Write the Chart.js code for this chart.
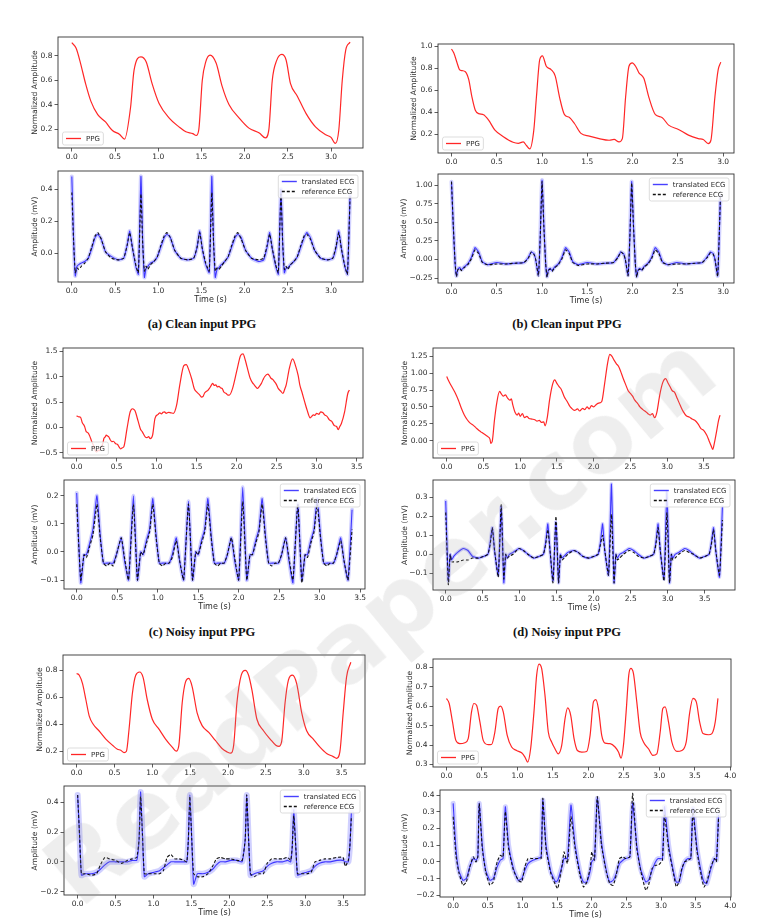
<!DOCTYPE html>
<html>
<head>
<meta charset="utf-8">
<script src="https://cdn.jsdelivr.net/npm/chart.js@4.4.1/dist/chart.umd.min.js"></script>
<style>
body{margin:0;background:#fff;width:774px;height:924px;position:relative;overflow:hidden;font-family:'DejaVu Sans',sans-serif}
canvas{position:absolute}
.cap{position:absolute;font:bold 12.5px 'Liberation Serif',serif;line-height:14px;color:#111;transform:translateX(-50%);white-space:nowrap}
.wm{position:absolute;left:380px;top:620px;font:bold 96px 'DejaVu Sans',sans-serif;line-height:1;color:rgba(150,150,150,0.16);
  transform:translate(-50%,-50%) rotate(-39.5deg);white-space:nowrap;pointer-events:none;z-index:5}
</style>
</head>
<body>
<div class="cap" style="left:202px;top:317px">(a) Clean input PPG</div>
<div class="cap" style="left:567px;top:317px">(b) Clean input PPG</div>
<div class="cap" style="left:202px;top:625px">(c) Noisy input PPG</div>
<div class="cap" style="left:567px;top:625px">(d) Noisy input PPG</div>
<div class="wm">ReadPaper.com</div>
<script>
// tick labels
var xTicks3 = [0, 0.5, 1.0, 1.5, 2.0, 2.5, 3.0];
var xTicks35 = [0, 0.5, 1.0, 1.5, 2.0, 2.5, 3.0, 3.5];
var xTicks4 = [0, 0.5, 1.0, 1.5, 2.0, 2.5, 3.0, 3.5, 4.0];
var yTicksPpgA = [0.2, 0.4, 0.6, 0.8];
var yTicksEcgA = [0.0, 0.2, 0.4];
var yTicksPpgB = [0.2, 0.4, 0.6, 0.8, 1.0];
var yTicksEcgB = [-0.25, 0.0, 0.25, 0.5, 0.75, 1.0];
var yTicksPpgC = [-0.5, 0.0, 0.5, 1.0, 1.5];
var yTicksEcgC = [-0.1, 0.0, 0.1, 0.2];
var yTicksPpgD = [0.0, 0.25, 0.5, 0.75, 1.0, 1.25];
var yTicksEcgD = [-0.1, 0.0, 0.1, 0.2, 0.3];
var yTicksPpgE = [0.2, 0.4, 0.6, 0.8];
var yTicksEcgE = [-0.2, 0.0, 0.2, 0.4];
var yTicksPpgF = [0.3, 0.4, 0.5, 0.6, 0.7, 0.8];
var yTicksEcgF = [-0.2, -0.1, 0.0, 0.1, 0.2, 0.3, 0.4];

// (a) clean PPG: [time s, amplitude]
var ppgA = [[0,0.906],[0.05,0.86],[0.10,0.74],[0.16,0.57],[0.22,0.43],[0.30,0.32],[0.39,0.26],[0.47,0.19],[0.55,0.16],[0.61,0.12],
  [0.68,0.38],[0.72,0.68],[0.80,0.79],[0.86,0.75],[0.93,0.57],[1.01,0.41],[1.13,0.29],[1.24,0.22],[1.32,0.18],[1.40,0.165],
  [1.44,0.15],[1.47,0.20],[1.51,0.60],[1.55,0.75],[1.60,0.805],[1.67,0.74],[1.74,0.55],[1.82,0.40],[1.94,0.29],[2.05,0.21],
  [2.17,0.17],[2.24,0.13],[2.28,0.195],[2.32,0.60],[2.37,0.76],[2.43,0.81],[2.48,0.765],[2.53,0.575],[2.61,0.47],[2.71,0.33],
  [2.82,0.22],[2.94,0.155],[3.00,0.135],[3.05,0.085],[3.09,0.195],[3.13,0.60],[3.17,0.846],[3.22,0.91]];

// (a) ECG
var ecgATime = [
  0.00,0.02,0.04,0.06,0.08,0.11,0.15,0.19,0.23,0.27,0.30,0.34,0.39,0.46,0.54,0.60,0.64,0.67,0.70,0.74,0.77,
  0.80,0.82,0.84,0.86,0.88,0.91,0.95,0.99,1.03,1.07,1.10,1.14,1.19,1.26,1.34,1.41,1.45,1.48,1.51,1.55,1.59,
  1.62,1.64,1.66,1.68,1.70,1.73,1.77,1.81,1.85,1.89,1.92,1.96,2.01,2.08,2.16,2.22,2.26,2.29,2.32,2.36,2.39,
  2.42,2.44,2.46,2.48,2.50,2.53,2.57,2.61,2.65,2.69,2.72,2.76,2.81,2.88,2.96,3.02,3.06,3.09,3.12,3.16,3.19,
  3.22];
var ecgARef = [
  0.38,0.08,-0.12,-0.09,-0.10,-0.08,-0.06,-0.03,0.04,0.11,0.13,0.09,0.01,-0.03,-0.04,-0.03,0.05,0.13,0.04,-0.07,-0.12,
  0.37,0.06,-0.11,-0.08,-0.10,-0.07,-0.05,-0.02,0.05,0.11,0.13,0.10,0.02,-0.03,-0.04,-0.03,0.04,0.13,0.03,-0.06,-0.11,
  0.38,0.07,-0.11,-0.09,-0.10,-0.08,-0.05,-0.02,0.05,0.11,0.13,0.09,0.02,-0.03,-0.04,-0.03,0.05,0.12,0.03,-0.07,-0.12,
  0.37,0.07,-0.10,-0.08,-0.10,-0.07,-0.05,-0.02,0.05,0.11,0.12,0.09,0.02,-0.03,-0.04,-0.03,0.05,0.13,0.03,-0.08,-0.13,
  0.35];
var ecgATrans = [
  0.48,0.10,-0.14,-0.08,-0.07,-0.06,-0.05,-0.03,0.03,0.10,0.12,0.09,0.01,-0.02,-0.04,-0.03,0.05,0.14,0.04,-0.08,-0.13,
  0.48,0.08,-0.15,-0.09,-0.08,-0.06,-0.05,-0.02,0.04,0.10,0.12,0.10,0.02,-0.03,-0.04,-0.03,0.04,0.14,0.03,-0.07,-0.12,
  0.48,0.08,-0.15,-0.10,-0.09,-0.07,-0.05,-0.02,0.04,0.10,0.12,0.10,0.02,-0.03,-0.05,-0.04,0.04,0.13,0.03,-0.08,-0.13,
  0.40,0.07,-0.12,-0.09,-0.09,-0.07,-0.05,-0.02,0.04,0.10,0.13,0.10,0.02,-0.03,-0.04,-0.03,0.04,0.14,0.03,-0.08,-0.13,
  0.36];

// (b) clean PPG
var ppgB = [[0,0.976],[0.026,0.94],[0.062,0.85],[0.088,0.79],[0.117,0.78],[0.153,0.77],[0.19,0.70],[0.226,0.54],[0.263,0.42],[0.30,0.39],
  [0.354,0.38],[0.41,0.33],[0.48,0.24],[0.573,0.18],[0.68,0.13],[0.737,0.12],[0.792,0.133],[0.828,0.10],[0.865,0.07],[0.909,0.24],
  [0.938,0.54],[0.974,0.878],[1.004,0.915],[1.047,0.82],[1.10,0.79],[1.146,0.73],[1.193,0.54],[1.248,0.38],[1.303,0.355],[1.358,0.30],
  [1.43,0.21],[1.522,0.185],[1.63,0.163],[1.741,0.148],[1.796,0.155],[1.85,0.133],[1.887,0.163],[1.923,0.54],[1.96,0.82],[1.996,0.85],
  [2.033,0.82],[2.07,0.76],[2.124,0.71],[2.179,0.54],[2.252,0.38],[2.325,0.355],[2.398,0.285],[2.507,0.246],[2.617,0.194],[2.726,0.163],
  [2.78,0.154],[2.836,0.118],[2.865,0.148],[2.909,0.54],[2.945,0.787],[2.974,0.857]];

// (b) ECG
var ecgBTime = [
  0.00,0.02,0.04,0.055,0.07,0.09,0.11,0.14,0.18,0.22,0.26,0.30,0.34,0.40,0.50,0.60,0.70,0.80,0.85,0.88,0.91,0.93,0.96,0.98,
  1.00,1.02,1.04,1.055,1.07,1.09,1.11,1.14,1.18,1.22,1.26,1.30,1.34,1.40,1.50,1.60,1.70,1.79,1.84,1.87,1.90,1.92,1.95,1.97,
  1.99,2.01,2.03,2.045,2.06,2.08,2.10,2.13,2.17,2.21,2.25,2.29,2.33,2.39,2.49,2.59,2.69,2.77,2.82,2.86,2.89,2.91,2.94,2.97];
var ecgBRef = [
  1.05,0.45,-0.05,-0.23,-0.14,-0.12,-0.15,-0.11,-0.07,0.01,0.13,0.08,-0.04,-0.07,-0.06,-0.06,-0.05,-0.04,0.02,0.10,0.07,0.00,-0.22,0.30,
  1.05,0.45,-0.05,-0.24,-0.15,-0.13,-0.16,-0.11,-0.07,0.01,0.13,0.08,-0.04,-0.08,-0.06,-0.06,-0.05,-0.04,0.03,0.10,0.07,0.00,-0.22,0.30,
  1.03,0.45,-0.05,-0.24,-0.15,-0.13,-0.15,-0.10,-0.06,0.01,0.13,0.08,-0.04,-0.07,-0.06,-0.06,-0.05,-0.04,0.02,0.09,0.07,0.00,-0.23,0.85];
var ecgBTrans = [
  1.05,0.45,-0.05,-0.22,-0.13,-0.11,-0.14,-0.10,-0.06,0.03,0.16,0.10,-0.03,-0.07,-0.04,-0.06,-0.05,-0.04,0.03,0.10,0.08,0.00,-0.21,0.30,
  1.07,0.45,-0.05,-0.23,-0.14,-0.12,-0.15,-0.10,-0.06,0.03,0.16,0.10,-0.03,-0.07,-0.04,-0.06,-0.05,-0.04,0.04,0.10,0.08,0.00,-0.21,0.30,
  1.05,0.45,-0.05,-0.23,-0.14,-0.12,-0.14,-0.09,-0.05,0.03,0.16,0.10,-0.03,-0.07,-0.04,-0.06,-0.05,-0.04,0.03,0.10,0.08,0.00,-0.22,0.85];

// (c) noisy PPG
var ppgC = [[0,0.23],[0.03,0.21],[0.05,0.20],[0.07,0.10],[0.10,0.02],[0.12,-0.08],[0.14,-0.10],[0.16,-0.15],[0.19,-0.28],[0.21,-0.35],
  [0.22,-0.41],[0.25,-0.48],[0.27,-0.44],[0.28,-0.46],[0.31,-0.38],[0.33,-0.30],[0.34,-0.22],[0.36,-0.18],[0.37,-0.15],[0.39,-0.17],
  [0.40,-0.18],[0.42,-0.24],[0.44,-0.28],[0.46,-0.27],[0.49,-0.32],[0.51,-0.33],[0.53,-0.38],[0.55,-0.42],[0.57,-0.40],[0.59,-0.38],
  [0.63,-0.02],[0.67,0.31],[0.70,0.37],[0.72,0.35],[0.73,0.33],[0.77,0.12],[0.80,-0.04],[0.82,-0.08],[0.86,-0.19],[0.88,-0.20],
  [0.90,-0.18],[0.92,-0.22],[0.95,-0.15],[0.98,0.18],[1.02,0.26],[1.04,0.29],[1.06,0.27],[1.08,0.30],[1.10,0.31],[1.12,0.28],
  [1.15,0.30],[1.18,0.29],[1.21,0.28],[1.25,0.44],[1.29,0.84],[1.34,1.22],[1.37,1.24],[1.41,1.10],[1.44,0.95],[1.47,0.77],
  [1.50,0.70],[1.54,0.64],[1.56,0.60],[1.58,0.61],[1.60,0.68],[1.62,0.71],[1.64,0.73],[1.66,0.77],[1.68,0.82],[1.70,0.87],
  [1.72,0.83],[1.74,0.84],[1.76,0.80],[1.78,0.81],[1.80,0.78],[1.82,0.77],[1.84,0.70],[1.87,0.67],[1.89,0.64],[1.91,0.64],
  [1.95,0.77],[2.01,1.17],[2.05,1.42],[2.08,1.45],[2.11,1.32],[2.13,1.20],[2.17,0.97],[2.20,0.88],[2.22,0.84],[2.24,0.80],
  [2.26,0.77],[2.28,0.80],[2.31,0.87],[2.33,0.94],[2.35,1.00],[2.39,1.05],[2.41,1.02],[2.43,0.97],[2.45,0.95],[2.47,0.91],
  [2.50,0.84],[2.52,0.77],[2.55,0.72],[2.58,0.67],[2.60,0.75],[2.62,0.84],[2.66,1.17],[2.70,1.35],[2.74,1.20],[2.77,1.02],
  [2.79,0.84],[2.82,0.68],[2.85,0.51],[2.88,0.35],[2.92,0.19],[2.94,0.22],[2.96,0.25],[2.98,0.24],[3.00,0.28],[3.03,0.26],
  [3.05,0.31],[3.08,0.29],[3.10,0.25],[3.13,0.22],[3.16,0.15],[3.19,0.12],[3.22,0.04],[3.25,0.02],[3.27,-0.04],[3.29,0.02],
  [3.31,0.08],[3.35,0.31],[3.39,0.67],[3.41,0.74]];

// (c) ECG
var ecgCTime = [
  0.00,0.05,0.09,0.12,0.16,0.20,0.25,0.29,0.33,0.37,0.41,0.45,0.49,0.55,0.59,0.64,
  0.70,0.75,0.79,0.82,0.86,0.90,0.94,0.98,1.02,1.06,1.10,1.14,1.18,1.23,1.27,1.32,
  1.38,1.43,1.47,1.50,1.54,1.58,1.62,1.66,1.70,1.74,1.78,1.82,1.86,1.91,1.95,2.00,
  2.05,2.10,2.14,2.17,2.21,2.25,2.29,2.33,2.37,2.41,2.45,2.49,2.53,2.58,2.62,2.67,
  2.73,2.78,2.82,2.85,2.89,2.93,2.97,3.01,3.05,3.09,3.13,3.17,3.21,3.26,3.30,3.35,
  3.40];
var ecgCRef = [
  0.17,-0.10,-0.01,-0.02,0.02,0.06,0.17,0.05,-0.04,-0.05,-0.04,-0.05,-0.01,0.05,-0.02,-0.10,
  0.17,-0.10,0.00,-0.01,0.03,0.07,0.17,0.05,-0.04,-0.05,-0.04,-0.04,-0.02,0.04,-0.03,-0.10,
  0.17,-0.10,0.00,-0.01,0.03,0.07,0.17,0.05,-0.04,-0.05,-0.04,-0.04,-0.01,0.05,-0.02,-0.10,
  0.18,-0.10,-0.01,-0.01,0.03,0.07,0.17,0.05,-0.04,-0.05,-0.04,-0.04,-0.01,0.05,-0.02,-0.10,
  0.17,-0.11,-0.01,-0.02,0.03,0.07,0.17,0.05,-0.04,-0.05,-0.04,-0.04,-0.01,0.04,-0.03,-0.10,
  0.08];
var ecgCTrans = [
  0.21,-0.11,-0.01,-0.01,0.03,0.08,0.20,0.06,-0.04,-0.04,-0.04,-0.04,-0.01,0.05,-0.03,-0.10,
  0.20,-0.10,0.00,-0.01,0.04,0.08,0.19,0.06,-0.04,-0.04,-0.04,-0.04,-0.01,0.05,-0.03,-0.10,
  0.18,-0.10,0.00,-0.01,0.04,0.08,0.19,0.06,-0.04,-0.04,-0.04,-0.04,-0.01,0.05,-0.03,-0.10,
  0.23,-0.10,-0.01,-0.01,0.04,0.08,0.19,0.06,-0.04,-0.04,-0.04,-0.04,-0.01,0.05,-0.03,-0.11,
  0.17,-0.10,-0.01,-0.01,0.04,0.08,0.19,0.06,-0.04,-0.04,-0.04,-0.04,-0.01,0.05,-0.03,-0.10,
  0.15];

// (d) noisy PPG
var ppgD = [[0,0.95],[0.04,0.86],[0.08,0.78],[0.12,0.70],[0.16,0.60],[0.20,0.48],[0.24,0.38],[0.28,0.31],[0.32,0.26],[0.36,0.23],
  [0.40,0.19],[0.44,0.15],[0.48,0.12],[0.52,0.09],[0.56,0.06],[0.59,0.02],[0.60,-0.04],[0.62,-0.01],[0.65,0.30],[0.68,0.55],
  [0.72,0.73],[0.74,0.70],[0.77,0.66],[0.80,0.68],[0.83,0.63],[0.86,0.60],[0.88,0.62],[0.90,0.53],[0.93,0.42],[0.96,0.38],
  [0.98,0.41],[1.00,0.36],[1.03,0.40],[1.06,0.34],[1.09,0.36],[1.12,0.33],[1.16,0.32],[1.20,0.31],[1.23,0.29],[1.26,0.30],
  [1.29,0.27],[1.32,0.28],[1.34,0.22],[1.37,0.35],[1.40,0.60],[1.44,0.83],[1.47,0.90],[1.50,0.85],[1.53,0.80],[1.56,0.76],
  [1.60,0.65],[1.64,0.58],[1.67,0.52],[1.70,0.48],[1.74,0.45],[1.78,0.47],[1.81,0.44],[1.85,0.48],[1.88,0.46],[1.91,0.50],
  [1.94,0.47],[1.97,0.52],[2.00,0.50],[2.04,0.54],[2.08,0.56],[2.11,0.58],[2.15,0.85],[2.19,1.15],[2.22,1.28],[2.25,1.25],
  [2.28,1.19],[2.31,1.14],[2.34,1.10],[2.37,1.02],[2.40,0.93],[2.44,0.82],[2.47,0.74],[2.50,0.70],[2.53,0.66],[2.56,0.60],
  [2.60,0.55],[2.63,0.50],[2.67,0.46],[2.71,0.43],[2.74,0.40],[2.77,0.38],[2.80,0.40],[2.83,0.34],[2.86,0.42],[2.90,0.68],
  [2.94,0.86],[2.98,0.92],[3.01,0.86],[3.04,0.80],[3.07,0.74],[3.10,0.72],[3.14,0.62],[3.18,0.52],[3.22,0.43],[3.26,0.37],
  [3.30,0.35],[3.34,0.32],[3.38,0.30],[3.42,0.25],[3.46,0.18],[3.50,0.15],[3.54,0.08],[3.57,0.00],[3.60,-0.08],[3.62,-0.13],
  [3.64,-0.05],[3.67,0.12],[3.70,0.30],[3.72,0.38]];

// (d) ECG
var ecgDTime = [
  0.00,0.035,0.06,0.08,0.11,0.16,0.24,0.30,0.36,0.44,0.52,0.57,0.60,0.63,0.66,0.71,
  0.75,0.785,0.81,0.83,0.86,0.91,0.99,1.05,1.11,1.19,1.27,1.32,1.35,1.38,1.41,1.45,
  1.49,1.525,1.55,1.57,1.60,1.65,1.73,1.79,1.85,1.93,2.01,2.06,2.09,2.12,2.15,2.20,
  2.24,2.275,2.30,2.32,2.35,2.40,2.48,2.54,2.60,2.68,2.76,2.81,2.84,2.87,2.90,2.95,
  2.99,3.025,3.05,3.07,3.10,3.15,3.23,3.29,3.35,3.43,3.51,3.56,3.59,3.62,3.65,3.70,
  3.74];
var ecgDRef = [
  0.22,-0.16,0.00,-0.04,-0.04,-0.04,-0.03,-0.03,-0.02,-0.02,-0.01,0.00,0.05,0.14,0.02,-0.12,
  0.26,-0.13,0.00,-0.02,-0.01,0.00,0.03,0.02,0.00,-0.02,-0.01,0.00,0.05,0.13,0.02,-0.15,
  0.20,-0.15,0.00,-0.03,-0.02,0.00,0.02,0.01,-0.01,-0.02,-0.01,0.00,0.05,0.10,0.02,-0.11,
  0.21,-0.15,0.00,-0.03,-0.02,0.00,0.02,0.01,-0.01,-0.02,-0.01,0.00,0.05,0.14,0.02,-0.14,
  0.22,-0.15,0.00,-0.03,-0.02,0.00,0.02,0.01,0.00,-0.02,-0.01,0.00,0.05,0.13,0.02,-0.11,
  0.18];
var ecgDTrans = [
  0.28,-0.14,0.00,-0.03,-0.01,0.01,0.03,0.02,-0.01,-0.02,-0.01,0.00,0.06,0.14,0.02,-0.11,
  0.25,-0.15,0.00,-0.02,0.00,0.01,0.03,0.02,0.00,-0.02,-0.01,0.00,0.06,0.16,0.02,-0.14,
  0.17,-0.15,0.00,-0.02,-0.01,0.01,0.02,0.01,-0.01,-0.02,-0.01,0.00,0.06,0.16,0.02,-0.11,
  0.37,-0.15,0.00,-0.02,0.00,0.01,0.03,0.02,0.00,-0.02,-0.01,0.00,0.06,0.16,0.02,-0.13,
  0.33,-0.15,0.00,-0.02,0.00,0.01,0.03,0.02,0.00,-0.02,-0.01,0.00,0.06,0.14,0.02,-0.12,
  0.25];

// (e) clean PPG
var ppgE = [[0,0.776],[0.035,0.764],[0.079,0.70],[0.123,0.58],[0.167,0.46],[0.219,0.40],[0.298,0.35],[0.386,0.29],[0.474,0.244],[0.539,0.215],
  [0.583,0.207],[0.627,0.19],[0.658,0.20],[0.693,0.365],[0.737,0.63],[0.781,0.764],[0.833,0.788],[0.877,0.75],[0.934,0.58],[1.0,0.437],
  [1.088,0.364],[1.175,0.29],[1.263,0.23],[1.316,0.20],[1.351,0.245],[1.395,0.56],[1.439,0.715],[1.482,0.74],[1.526,0.68],[1.592,0.485],
  [1.658,0.39],[1.746,0.34],[1.833,0.28],[1.921,0.22],[1.987,0.195],[2.039,0.185],[2.075,0.245],[2.118,0.56],[2.175,0.764],[2.228,0.80],
  [2.272,0.764],[2.316,0.655],[2.382,0.437],[2.469,0.352],[2.557,0.29],[2.632,0.244],[2.675,0.236],[2.711,0.28],[2.754,0.56],[2.798,0.727],
  [2.851,0.764],[2.908,0.70],[2.974,0.485],[3.039,0.352],[3.127,0.29],[3.215,0.23],[3.303,0.183],[3.39,0.16],[3.434,0.147],[3.478,0.195],
  [3.522,0.485],[3.566,0.75],[3.623,0.86]];

// (e) ECG
var ecgETime = [
  0.00,0.025,0.05,0.10,0.18,0.25,0.30,0.36,0.42,0.50,0.58,0.66,0.72,0.78,0.81,
  0.83,0.855,0.88,0.93,1.01,1.08,1.13,1.18,1.23,1.28,1.34,1.40,1.44,1.46,
  1.48,1.505,1.53,1.58,1.65,1.72,1.78,1.83,1.88,1.95,2.02,2.10,2.17,2.21,
  2.23,2.255,2.28,2.33,2.39,2.45,2.50,2.56,2.62,2.70,2.77,2.81,2.83,
  2.85,2.875,2.90,2.95,3.02,3.08,3.13,3.19,3.26,3.33,3.42,3.50,3.53,3.57,3.59,
  3.61];
var ecgERef = [
  0.45,0.18,-0.08,-0.08,-0.09,-0.08,-0.02,0.03,0.02,0.01,-0.01,0.01,0.02,0.03,0.15,
  0.44,0.18,-0.08,-0.08,-0.08,-0.08,-0.06,0.03,0.05,0.02,0.02,0.01,0.00,0.15,
  0.44,0.15,-0.08,-0.10,-0.10,-0.08,-0.03,0.02,0.03,0.02,0.02,0.01,0.01,0.15,
  0.45,0.15,-0.08,-0.10,-0.08,-0.08,-0.01,0.02,0.02,0.02,0.03,0.01,0.10,
  0.31,0.12,-0.08,-0.08,-0.08,-0.07,0.00,0.01,0.02,0.02,0.03,0.03,-0.03,0.01,0.10,
  0.30];
var ecgETrans = [
  0.45,0.18,-0.09,-0.08,-0.08,-0.07,-0.05,-0.02,0.00,0.00,0.00,0.00,0.01,0.01,0.15,
  0.47,0.18,-0.10,-0.08,-0.07,-0.06,-0.04,-0.02,0.00,0.00,0.00,0.00,0.00,0.15,
  0.45,0.15,-0.15,-0.08,-0.08,-0.07,-0.05,-0.02,0.00,0.00,0.01,0.01,0.00,0.15,
  0.45,0.15,-0.09,-0.08,-0.07,-0.06,-0.03,-0.01,0.00,0.00,0.01,0.00,0.10,
  0.35,0.12,-0.09,-0.08,-0.07,-0.06,-0.03,-0.01,0.00,0.00,0.01,0.01,0.00,0.00,0.10,
  0.33];

// (f) PPG
var ppgF = [[0,0.64],[0.038,0.614],[0.085,0.519],[0.132,0.424],[0.188,0.407],[0.259,0.412],[0.306,0.433],[0.353,0.571],[0.386,0.614],[0.424,0.605],
  [0.471,0.519],[0.518,0.424],[0.588,0.402],[0.635,0.403],[0.682,0.467],[0.729,0.588],[0.762,0.60],[0.80,0.571],[0.856,0.45],[0.918,0.39],
  [0.988,0.372],[1.059,0.36],[1.106,0.338],[1.144,0.312],[1.186,0.381],[1.233,0.571],[1.271,0.76],[1.304,0.817],[1.341,0.795],[1.388,0.657],
  [1.435,0.467],[1.482,0.416],[1.529,0.381],[1.576,0.355],[1.624,0.398],[1.671,0.536],[1.708,0.591],[1.751,0.553],[1.798,0.433],[1.845,0.372],
  [1.906,0.364],[1.976,0.367],[2.024,0.45],[2.071,0.622],[2.104,0.634],[2.141,0.588],[2.188,0.45],[2.235,0.41],[2.306,0.407],[2.376,0.39],
  [2.424,0.364],[2.461,0.333],[2.494,0.398],[2.532,0.571],[2.569,0.76],[2.598,0.795],[2.635,0.769],[2.682,0.622],[2.729,0.467],[2.776,0.416],
  [2.847,0.381],[2.908,0.347],[2.965,0.355],[3.012,0.467],[3.049,0.588],[3.082,0.597],[3.129,0.519],[3.176,0.416],[3.247,0.367],[3.318,0.372],
  [3.379,0.416],[3.426,0.562],[3.474,0.64],[3.521,0.622],[3.568,0.519],[3.615,0.459],[3.694,0.453],[3.741,0.459],[3.788,0.519],[3.826,0.64]];

// (f) ECG
var ecgFTime = [
  0.00,0.04,0.08,0.14,0.19,0.24,0.29,0.33,0.356,
  0.376,0.42,0.47,0.53,0.58,0.635,0.68,0.72,
  0.753,0.80,0.87,0.94,0.99,1.035,1.08,1.15,1.22,1.27,
  1.294,1.34,1.41,1.48,1.51,1.576,1.60,1.65,
  1.70,1.76,1.83,1.88,1.93,1.98,2.00,2.04,
  2.08,2.14,2.21,2.26,2.31,2.353,2.40,2.45,2.49,2.55,
  2.59,2.65,2.71,2.78,2.82,2.87,2.92,2.96,3.02,
  3.05,3.11,3.18,3.22,3.26,3.30,3.34,3.39,3.43,
  3.46,3.52,3.58,3.62,3.66,3.72,3.77,3.80,
  3.83];
var ecgFRef = [
  0.27,0.04,-0.06,-0.14,-0.12,-0.03,0.03,0.00,0.03,
  0.35,0.08,-0.06,-0.14,-0.12,0.00,0.04,0.03,
  0.30,0.08,-0.05,-0.11,-0.12,-0.03,0.02,0.02,0.02,0.02,
  0.38,0.08,-0.07,-0.14,-0.16,-0.01,0.06,-0.01,
  0.27,0.08,-0.08,-0.15,-0.12,-0.03,0.06,0.01,
  0.39,0.10,-0.06,-0.13,-0.14,-0.08,0.02,0.03,0.02,0.03,
  0.41,0.08,-0.06,-0.17,-0.14,-0.04,-0.02,-0.02,0.01,
  0.28,0.08,-0.07,-0.15,-0.12,-0.04,0.00,0.01,0.02,
  0.30,0.06,-0.08,-0.15,-0.12,-0.03,0.02,0.00,
  0.26];
var ecgFTrans = [
  0.35,0.08,-0.05,-0.11,-0.10,-0.03,0.02,0.01,0.03,
  0.35,0.10,-0.05,-0.11,-0.10,-0.03,0.01,0.02,
  0.33,0.10,-0.04,-0.11,-0.10,-0.05,-0.01,0.01,0.02,0.03,
  0.37,0.10,-0.06,-0.12,-0.11,-0.02,0.02,0.02,
  0.34,0.10,-0.06,-0.12,-0.12,-0.05,0.00,0.02,
  0.38,0.12,-0.05,-0.12,-0.11,-0.07,-0.01,0.01,0.02,0.03,
  0.35,0.10,-0.05,-0.12,-0.11,-0.05,0.00,0.02,0.02,
  0.33,0.10,-0.06,-0.12,-0.12,-0.05,0.00,0.02,0.02,
  0.32,0.08,-0.06,-0.12,-0.13,-0.04,0.02,0.01,
  0.28];

Chart.defaults.font.family = "'DejaVu Sans', sans-serif";
Chart.defaults.color = '#2a2a2a';

var PPG_T = 'Normalized Amplitude', ECG_T = 'Amplitude (mV)';
var PAD_L = 46, PAD_T = 8, PAD_R = 8;

// plot boxes are [left, top, right, bottom] in page pixels
var panels = [
  {box:[58,37,363,148],  xr:[-0.16,3.37], yr:[0.048,0.952],  xt:xTicks3,  yt:yTicksPpgA, yd:1, gap:23, ppg:ppgA},
  {box:[58,171,363,282], xr:[-0.16,3.37], yr:[-0.178,0.514], xt:xTicks3,  yt:yTicksEcgA, yd:1, gap:23, ecg:[ecgATime,ecgARef,ecgATrans], band:4},
  {box:[438,44,734,153], xr:[-0.149,3.12], yr:[0.032,1.022], xt:xTicks3,  yt:yTicksPpgB, yd:1, gap:24, ppg:ppgB},
  {box:[438,174,734,283],xr:[-0.149,3.12], yr:[-0.317,1.153],xt:xTicks3,  yt:yTicksEcgB, yd:2, gap:34, ecg:[ecgBTime,ecgBRef,ecgBTrans], band:4},
  {box:[63,348,363,458], xr:[-0.17,3.58], yr:[-0.6,1.566],   xt:xTicks35, yt:yTicksPpgC, yd:1, gap:28, ppg:ppgC},
  {box:[64,480,365,589], xr:[-0.157,3.56], yr:[-0.132,0.256],xt:xTicks35, yt:yTicksEcgC, yd:1, gap:29, ecg:[ecgCTime,ecgCRef,ecgCTrans], band:4},
  {box:[433,348,734,458],xr:[-0.186,3.91], yr:[-0.257,1.374],xt:xTicks35, yt:yTicksPpgD, yd:2, gap:28, ppg:ppgD},
  {box:[433,480,735,590],xr:[-0.172,3.91], yr:[-0.188,0.391],xt:xTicks35, yt:yTicksEcgD, yd:1, gap:28, ecg:[ecgDTime,ecgDRef,ecgDTrans], band:3.5},
  {box:[63,655,365,764], xr:[-0.18,3.81], yr:[0.105,0.914],  xt:xTicks35, yt:yTicksPpgE, yd:1, gap:23, ppg:ppgE},
  {box:[64,786,365,895], xr:[-0.18,3.79], yr:[-0.223,0.51],  xt:xTicks35, yt:yTicksEcgE, yd:1, gap:29, ecg:[ecgETime,ecgERef,ecgETrans], band:6},
  {box:[433,659,731,767],xr:[-0.19,4.01], yr:[0.287,0.843],  xt:xTicks4,  yt:yTicksPpgF, yd:1, gap:23, ppg:ppgF},
  {box:[440,790,731,897],xr:[-0.19,4.01], yr:[-0.21,0.43],   xt:xTicks4,  yt:yTicksEcgF, yd:1, gap:35, ecg:[ecgFTime,ecgFRef,ecgFTrans], band:5}
];

function fmt(v, d) {
  var s = Math.abs(v).toFixed(d);
  return (v < -1e-9 ? '\u2212' : '') + s;
}

// frame around the plot + matplotlib-like legend box inside it
var boxPlugin = {
  id: 'boxLegend',
  afterDatasetsDraw: function(chart, args, opts) {
    var ctx = chart.ctx, a = chart.chartArea;
    ctx.save();
    ctx.strokeStyle = '#333';
    ctx.lineWidth = 0.9;
    ctx.strokeRect(a.left, a.top, a.right - a.left, a.bottom - a.top);
    var items = opts.items || [];
    ctx.font = '7px "DejaVu Sans"';
    var tw = 0;
    items.forEach(function(it){ tw = Math.max(tw, ctx.measureText(it.label).width); });
    var padX = 3.5, lineLen = 15, gap = 5, rowH = 10, padY = 1.5;
    var w = padX * 2 + lineLen + gap + tw, h = padY * 2 + rowH * items.length;
    var x, y;
    if (opts.corner === 'ur') { x = a.right - 5 - w; y = a.top + 4; }
    else { x = a.left + 4.5; y = a.bottom - 3 - h; }
    ctx.fillStyle = 'rgba(255,255,255,0.8)';
    ctx.strokeStyle = '#d4d4d4';
    ctx.lineWidth = 0.8;
    ctx.beginPath();
    ctx.roundRect(x, y, w, h, 2);
    ctx.fill();
    ctx.stroke();
    items.forEach(function(it, i){
      var cy = y + padY + rowH * (i + 0.5);
      ctx.strokeStyle = it.color;
      ctx.lineWidth = it.width;
      ctx.setLineDash(it.dash || []);
      ctx.beginPath();
      ctx.moveTo(x + padX, cy);
      ctx.lineTo(x + padX + lineLen, cy);
      ctx.stroke();
      ctx.setLineDash([]);
      ctx.fillStyle = '#2a2a2a';
      ctx.textBaseline = 'middle';
      ctx.fillText(it.label, x + padX + lineLen + gap, cy + 0.5);
    });
    ctx.restore();
  }
};

function pts(time, vals) {
  return time.map(function(t, i){ return {x: t, y: vals[i]}; });
}

panels.forEach(function(p) {
  var isEcg = !!p.ecg;
  var padB = isEcg ? 27 : 16;
  var L = p.box[0], T = p.box[1], R = p.box[2], B = p.box[3];
  var cv = document.createElement('canvas');
  cv.width = (R - L) + PAD_L + PAD_R;
  cv.height = (B - T) + PAD_T + padB;
  cv.style.left = (L - PAD_L) + 'px';
  cv.style.top = (T - PAD_T) + 'px';
  document.body.appendChild(cv);

  var datasets, legendItems, corner;
  if (isEcg) {
    var tr = pts(p.ecg[0], p.ecg[2]);
    datasets = [
      {data: pts(p.ecg[0], p.ecg[1]), borderColor: '#111', borderWidth: 1.1, borderDash: [3, 2], order: 0, tension: 0.15},
      {data: tr, borderColor: 'rgba(25,15,255,0.8)', borderWidth: 1.1, order: 1, tension: 0.15},
      {data: tr, borderColor: 'rgba(110,110,255,0.32)', borderWidth: p.band, order: 2, tension: 0.15,
       borderJoinStyle: 'round', borderCapStyle: 'round'}
    ];
    legendItems = [
      {label: 'translated ECG', color: 'rgba(40,30,255,0.85)', width: 1.4},
      {label: 'reference ECG', color: '#111', width: 1.3, dash: [3, 2]}
    ];
    corner = 'ur';
  } else {
    datasets = [{data: p.ppg.map(function(r){ return {x: r[0], y: r[1]}; }), borderColor: 'rgba(255,0,0,0.85)', borderWidth: 1.2,
                 cubicInterpolationMode: 'monotone'}];
    legendItems = [{label: 'PPG', color: 'rgba(255,0,0,0.85)', width: 1.3}];
    corner = 'll';
  }

  new Chart(cv.getContext('2d'), {
    type: 'line',
    data: {datasets: datasets},
    plugins: [boxPlugin],
    options: {
      responsive: false,
      animation: false,
      layout: {padding: {left: 0, top: PAD_T, right: PAD_R, bottom: 0}},
      elements: {point: {radius: 0}},
      plugins: {
        legend: {display: false},
        tooltip: {enabled: false},
        boxLegend: {items: legendItems, corner: corner}
      },
      scales: {
        x: {
          type: 'linear', min: p.xr[0], max: p.xr[1],
          grid: {drawOnChartArea: false, drawTicks: true, tickLength: 3.5, color: '#333', lineWidth: 0.8},
          border: {display: false},
          ticks: {font: {size: 7.5}, padding: 1, maxRotation: 0, autoSkip: false,
                  callback: function(v){ return fmt(v, 1); }},
          afterBuildTicks: function(s){ s.ticks = p.xt.map(function(v){ return {value: v}; }); },
          afterFit: function(s){ s.height = padB; },
          title: {display: isEcg, text: 'Time (s)', font: {size: 8}, padding: {top: 0, bottom: padB - 18 - 4.8}}
        },
        y: {
          type: 'linear', min: p.yr[0], max: p.yr[1],
          grid: {drawOnChartArea: false, drawTicks: true, tickLength: 3.5, color: '#333', lineWidth: 0.8},
          border: {display: false},
          ticks: {font: {size: 7.5}, padding: 2, autoSkip: false,
                  callback: function(v){ return fmt(v, p.yd); }},
          afterBuildTicks: function(s){ s.ticks = p.yt.map(function(v){ return {value: v}; }); },
          afterFit: function(s){ s.width = PAD_L; },
          title: {display: true, text: isEcg ? ECG_T : PPG_T, font: {size: 7.6},
                  padding: {top: PAD_L - p.gap - 4.56, bottom: 0}}
        }
      }
    }
  });
});
</script>
</body>
</html>
